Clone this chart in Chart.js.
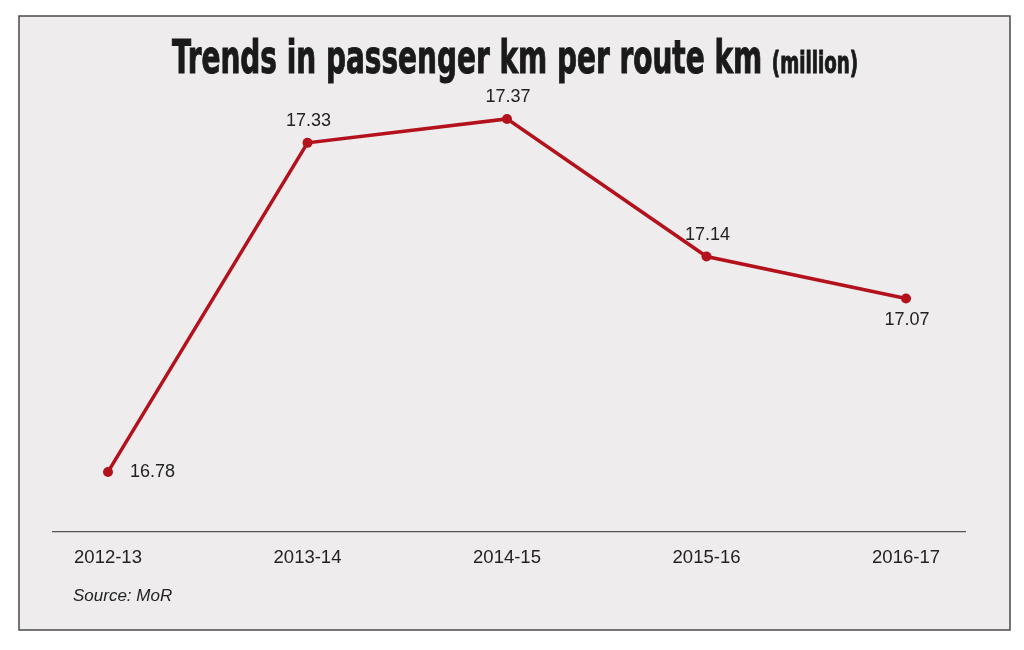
<!DOCTYPE html>
<html>
<head>
<meta charset="utf-8">
<script src="https://cdn.jsdelivr.net/npm/chart.js@4.4.1/dist/chart.umd.min.js"></script>
<style>
  html, body { margin: 0; padding: 0; background: #fff; }
  #wrap { width: 1024px; height: 650px; position: relative; }
</style>
</head>
<body>
<div id="wrap"><canvas id="chart" width="1024" height="650"></canvas></div>
<script>
const years = ['2012-13', '2013-14', '2014-15', '2015-16', '2016-17'];
const passengerKm = [16.78, 17.33, 17.37, 17.14, 17.07];
const labelSide = ['right', 'top', 'top', 'top', 'bottom'];

const titleMain = 'Trends in passenger km per route km';
const titleUnit = '(million)';
const sourceText = 'Source: MoR';

const RED = '#b3121c';
const TEXT = '#222222';

// grey panel with dark frame behind everything
const panelPlugin = {
  id: 'panel',
  beforeDraw(chart) {
    const ctx = chart.ctx;
    ctx.save();
    ctx.fillStyle = '#ffffff';
    ctx.fillRect(0, 0, chart.width, chart.height);
    ctx.fillStyle = '#eeeced';
    ctx.fillRect(19, 16, 991, 614);
    ctx.strokeStyle = '#4a4a4a';
    ctx.lineWidth = 1.5;
    ctx.strokeRect(19, 16, 991, 614);
    ctx.restore();
  },
  afterDraw(chart) {
    const ctx = chart.ctx;
    ctx.save();
    // title: heavy condensed main part + smaller unit
    const mainFont = 'bold 46px "Liberation Sans Narrow", "DejaVu Sans Condensed", "Liberation Sans", sans-serif';
    const unitFont = 'bold 30px "Liberation Sans Narrow", "DejaVu Sans Condensed", "Liberation Sans", sans-serif';
    ctx.font = mainFont;
    const wMain = ctx.measureText(titleMain + ' ').width;
    ctx.font = unitFont;
    const wUnit = ctx.measureText(titleUnit).width;
    const target = 686;
    const sx = Math.min(1, target / (wMain + wUnit));
    const cx = 515;
    ctx.translate(cx, 73);
    ctx.scale(sx, 1);
    const start = -(wMain + wUnit) / 2;
    ctx.fillStyle = '#1a1a1a';
    ctx.strokeStyle = '#1a1a1a';
    ctx.lineWidth = 1;
    ctx.textBaseline = 'alphabetic';
    ctx.textAlign = 'left';
    ctx.font = mainFont;
    ctx.fillText(titleMain, start, 0);
    ctx.strokeText(titleMain, start, 0);
    ctx.font = unitFont;
    ctx.fillText(titleUnit, start + wMain, 0);
    ctx.strokeText(titleUnit, start + wMain, 0);
    ctx.restore();

    ctx.save();
    ctx.font = 'italic 17px "Liberation Sans", Arial, sans-serif';
    ctx.fillStyle = TEXT;
    ctx.textBaseline = 'middle';
    ctx.fillText(sourceText, 73, 596);
    ctx.restore();
  }
};

// value labels next to each point
const valueLabels = {
  id: 'valueLabels',
  afterDatasetsDraw(chart) {
    const ctx = chart.ctx;
    const meta = chart.getDatasetMeta(0);
    ctx.save();
    ctx.font = '18px "Liberation Sans", Arial, sans-serif';
    ctx.fillStyle = TEXT;
    ctx.textBaseline = 'middle';
    meta.data.forEach((pt, i) => {
      const txt = passengerKm[i].toFixed(2);
      const side = labelSide[i];
      if (side === 'right') {
        ctx.textAlign = 'left';
        ctx.fillText(txt, pt.x + 22, pt.y);
      } else if (side === 'top') {
        ctx.textAlign = 'center';
        ctx.fillText(txt, pt.x + 1, pt.y - 22);
      } else {
        ctx.textAlign = 'center';
        ctx.fillText(txt, pt.x + 1, pt.y + 22);
      }
    });
    ctx.restore();
  }
};

new Chart(document.getElementById('chart').getContext('2d'), {
  type: 'line',
  data: {
    datasets: [{
      label: 'Passenger km per route km',
      data: passengerKm.map((v, i) => ({ x: i, y: v })),
      borderColor: RED,
      backgroundColor: RED,
      borderWidth: 3.5,
      pointRadius: 5,
      pointBackgroundColor: RED,
      pointBorderWidth: 0,
      tension: 0,
      fill: false,
    }]
  },
  options: {
    responsive: false,
    animation: false,
    devicePixelRatio: 1,
    layout: {
      padding: { left: 53, right: 59, top: 89, bottom: 66 }
    },
    plugins: {
      legend: { display: false },
      tooltip: { enabled: false },
      title: { display: false }
    },
    scales: {
      x: {
        type: 'linear',
        min: -0.2757,
        max: 4.2957,
        afterBuildTicks: axis => {
          axis.ticks = years.map((_, i) => ({ value: i }));
        },
        grid: { display: false, drawTicks: false },
        border: { display: true, color: '#555555', width: 1.2 },
        ticks: {
          padding: 15,
          color: TEXT,
          font: { family: '"Liberation Sans", Arial, sans-serif', size: 18.5 },
          callback: v => years[v],
          maxRotation: 0,
          autoSkip: false
        }
      },
      y: {
        display: false,
        min: 16.68,
        max: 17.42
      }
    }
  },
  plugins: [panelPlugin, valueLabels]
});
</script>
</body>
</html>
